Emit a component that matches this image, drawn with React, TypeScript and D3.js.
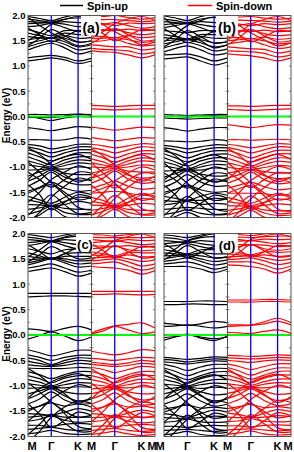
import React from "react";
import * as d3 from "d3";

// k-path (hexagonal BZ: M-Γ-K-M), sampled at M, mid, Γ, mid, K, M
const kPath = [0, 0.433, 0.866, 1.366, 1.866, 2.366];
const kTicks = [0, 0.866, 1.866, 2.366];
const kLabels = ["M", "Γ", "K", "M"];
const energyTicks = [2.0, 1.5, 1.0, 0.5, 0.0, -0.5, -1.0, -1.5, -2.0];
const legendLabels = ["Spin-up", "Spin-down"];
const panelLabels = ["(a)", "(b)", "(c)", "(d)"];

// ---------- panel (a) ----------
const upA = [
  [1.10, 1.13, 1.16, 1.12, 1.05, 1.10],
  [1.16, 1.19, 1.21, 1.17, 1.10, 1.15],
  [1.32, 1.40, 1.45, 1.36, 1.24, 1.30],
  [1.38, 1.45, 1.50, 1.43, 1.32, 1.36],
  [1.45, 1.50, 1.55, 1.48, 1.38, 1.42],
  [1.52, 1.55, 1.55, 1.55, 1.47, 1.50],
  [1.58, 1.56, 1.55, 1.60, 1.55, 1.56],
  [1.65, 1.60, 1.56, 1.65, 1.62, 1.62],
  [1.72, 1.66, 1.60, 1.70, 1.70, 1.70],
  [1.78, 1.80, 1.84, 1.76, 1.68, 1.74],
  [1.84, 1.85, 1.86, 1.83, 1.78, 1.80],
  [1.88, 1.87, 1.86, 1.88, 1.86, 1.87],
  [1.93, 1.90, 1.87, 1.93, 1.95, 1.94],
  [1.98, 1.94, 1.90, 1.97, 2.02, 2.0],
  [1.40, 1.55, 1.72, 1.60, 1.48, 1.50],
  [1.75, 1.62, 1.48, 1.58, 1.70, 1.68],
  [1.50, 1.65, 1.82, 1.92, 1.98, 1.90],
  [1.96, 1.80, 1.66, 1.52, 1.40, 1.45],
  [0.04, 0.04, 0.03, 0.04, 0.05, 0.04],
  [0.01, -0.04, -0.08, -0.03, 0.0, -0.01],
  [-0.02, -0.02, -0.02, 0.01, 0.04, 0.02],
  [-0.22, -0.25, -0.28, -0.24, -0.20, -0.22],
  [-0.46, -0.46, -0.47, -0.46, -0.42, -0.45],
  [-0.55, -0.58, -0.64, -0.60, -0.55, -0.55],
  [-0.60, -0.65, -0.72, -0.66, -0.60, -0.60],
  [-0.66, -0.72, -0.80, -0.72, -0.66, -0.66],
  [-0.72, -0.80, -0.88, -0.80, -0.72, -0.72],
  [-0.80, -0.88, -0.96, -0.86, -0.80, -0.80],
  [-0.88, -0.94, -1.00, -0.92, -0.86, -0.88],
  [-0.96, -0.99, -1.02, -0.97, -0.92, -0.94],
  [-1.06, -1.05, -1.03, -1.04, -1.00, -1.02],
  [-1.18, -1.10, -1.04, -1.12, -1.15, -1.15],
  [-1.28, -1.18, -1.06, -1.20, -1.26, -1.25],
  [-1.38, -1.26, -1.10, -1.28, -1.35, -1.35],
  [-1.48, -1.40, -1.30, -1.42, -1.48, -1.46],
  [-1.58, -1.65, -1.72, -1.60, -1.50, -1.55],
  [-1.65, -1.70, -1.76, -1.68, -1.60, -1.62],
  [-1.74, -1.75, -1.77, -1.74, -1.68, -1.72],
  [-1.84, -1.81, -1.77, -1.82, -1.84, -1.84],
  [-1.94, -1.87, -1.78, -1.90, -1.94, -1.94],
  [-2.05, -1.95, -1.82, -1.98, -2.05, -2.05],
  [-1.52, -1.42, -1.35, -1.55, -1.80, -1.85],
  [-2.10, -1.90, -1.60, -1.38, -1.22, -1.28],
  [-0.62, -0.75, -0.95, -1.15, -1.30, -1.20],
  [-1.25, -1.05, -0.90, -0.80, -0.75, -0.85],
  [-0.90, -1.10, -1.30, -1.50, -1.65, -1.60],
  [-1.70, -1.50, -1.25, -1.10, -0.98, -1.05],
  [-1.35, -1.55, -1.85, -1.70, -1.55, -1.60],
  [-1.95, -1.75, -1.55, -1.75, -1.92, -1.90],
  [-1.10, -1.25, -1.40, -1.25, -1.10, -1.12],
];
const downA = [
  [1.30, 1.28, 1.27, 1.22, 1.16, 1.22],
  [1.35, 1.33, 1.32, 1.30, 1.24, 1.28],
  [1.42, 1.40, 1.38, 1.38, 1.32, 1.35],
  [1.48, 1.50, 1.53, 1.45, 1.40, 1.42],
  [1.54, 1.55, 1.56, 1.52, 1.47, 1.50],
  [1.60, 1.58, 1.56, 1.60, 1.56, 1.58],
  [1.67, 1.70, 1.73, 1.66, 1.62, 1.65],
  [1.73, 1.72, 1.70, 1.73, 1.70, 1.72],
  [1.80, 1.82, 1.86, 1.80, 1.75, 1.78],
  [1.86, 1.84, 1.80, 1.85, 1.84, 1.85],
  [1.92, 1.92, 1.92, 1.90, 1.88, 1.90],
  [1.97, 1.98, 2.00, 1.96, 1.93, 1.96],
  [1.45, 1.58, 1.74, 1.62, 1.50, 1.52],
  [1.78, 1.64, 1.50, 1.60, 1.72, 1.70],
  [1.55, 1.68, 1.84, 1.93, 1.98, 1.90],
  [1.98, 1.82, 1.68, 1.55, 1.42, 1.48],
  [0.22, 0.21, 0.20, 0.21, 0.22, 0.22],
  [0.15, 0.14, 0.13, 0.14, 0.15, 0.15],
  [-0.21, -0.24, -0.27, -0.24, -0.21, -0.22],
  [-0.42, -0.45, -0.48, -0.45, -0.42, -0.43],
  [-0.55, -0.58, -0.62, -0.58, -0.54, -0.55],
  [-0.62, -0.66, -0.72, -0.66, -0.60, -0.62],
  [-0.68, -0.74, -0.82, -0.74, -0.68, -0.68],
  [-0.75, -0.82, -0.90, -0.82, -0.74, -0.75],
  [-0.84, -0.90, -0.97, -0.88, -0.82, -0.84],
  [-0.92, -0.96, -1.00, -0.94, -0.88, -0.90],
  [-1.00, -1.01, -1.02, -1.00, -0.96, -0.98],
  [-1.12, -1.07, -1.03, -1.08, -1.10, -1.10],
  [-1.22, -1.14, -1.05, -1.16, -1.22, -1.20],
  [-1.32, -1.22, -1.08, -1.24, -1.32, -1.30],
  [-1.42, -1.35, -1.28, -1.38, -1.44, -1.42],
  [-1.52, -1.50, -1.48, -1.52, -1.55, -1.52],
  [-1.60, -1.66, -1.74, -1.62, -1.52, -1.58],
  [-1.68, -1.72, -1.77, -1.70, -1.62, -1.65],
  [-1.76, -1.76, -1.78, -1.76, -1.72, -1.74],
  [-1.86, -1.82, -1.78, -1.84, -1.86, -1.86],
  [-1.95, -1.88, -1.80, -1.90, -1.95, -1.95],
  [-2.05, -1.96, -1.84, -1.98, -2.05, -2.05],
  [-1.50, -1.42, -1.36, -1.56, -1.82, -1.88],
  [-2.10, -1.88, -1.62, -1.40, -1.24, -1.30],
  [-0.64, -0.78, -0.96, -1.14, -1.28, -1.18],
  [-1.22, -1.04, -0.92, -0.82, -0.76, -0.86],
  [-0.92, -1.12, -1.32, -1.52, -1.66, -1.60],
  [-1.72, -1.52, -1.28, -1.12, -1.00, -1.06],
  [-1.36, -1.56, -1.84, -1.70, -1.56, -1.60],
  [-1.96, -1.76, -1.56, -1.76, -1.93, -1.91],
  [-1.12, -1.26, -1.42, -1.26, -1.12, -1.14],
];

// ---------- panel (b) ----------
const upB = [
  [1.14, 1.16, 1.18, 1.10, 1.02, 1.08],
  [1.22, 1.23, 1.24, 1.18, 1.10, 1.16],
  [1.28, 1.35, 1.40, 1.32, 1.22, 1.26],
  [1.36, 1.42, 1.47, 1.40, 1.30, 1.34],
  [1.44, 1.48, 1.52, 1.46, 1.38, 1.42],
  [1.50, 1.52, 1.52, 1.52, 1.46, 1.48],
  [1.56, 1.54, 1.52, 1.58, 1.55, 1.55],
  [1.62, 1.58, 1.54, 1.62, 1.62, 1.62],
  [1.70, 1.68, 1.66, 1.70, 1.70, 1.70],
  [1.76, 1.80, 1.84, 1.76, 1.68, 1.72],
  [1.82, 1.84, 1.86, 1.82, 1.78, 1.80],
  [1.88, 1.86, 1.84, 1.88, 1.86, 1.87],
  [1.93, 1.90, 1.86, 1.93, 1.96, 1.94],
  [1.99, 1.95, 1.90, 1.98, 2.03, 2.0],
  [1.38, 1.52, 1.70, 1.58, 1.45, 1.48],
  [1.74, 1.60, 1.46, 1.56, 1.68, 1.66],
  [1.48, 1.63, 1.80, 1.90, 1.97, 1.88],
  [1.95, 1.78, 1.64, 1.50, 1.36, 1.42],
  [0.04, 0.03, 0.02, 0.03, 0.04, 0.04],
  [-0.03, -0.04, -0.05, -0.04, -0.03, -0.03],
  [0.00, 0.00, -0.01, 0.01, 0.02, 0.01],
  [-0.22, -0.25, -0.29, -0.25, -0.22, -0.22],
  [-0.48, -0.49, -0.50, -0.49, -0.46, -0.48],
  [-0.57, -0.60, -0.64, -0.60, -0.56, -0.57],
  [-0.62, -0.66, -0.72, -0.67, -0.62, -0.62],
  [-0.68, -0.74, -0.82, -0.74, -0.68, -0.68],
  [-0.74, -0.82, -0.90, -0.82, -0.75, -0.74],
  [-0.82, -0.90, -0.98, -0.88, -0.82, -0.82],
  [-0.90, -0.96, -1.04, -0.95, -0.88, -0.90],
  [-0.98, -1.02, -1.06, -1.00, -0.95, -0.96],
  [-1.08, -1.07, -1.06, -1.06, -1.02, -1.04],
  [-1.20, -1.13, -1.06, -1.14, -1.18, -1.17],
  [-1.30, -1.20, -1.08, -1.22, -1.28, -1.27],
  [-1.40, -1.30, -1.15, -1.30, -1.38, -1.37],
  [-1.50, -1.44, -1.36, -1.45, -1.50, -1.48],
  [-1.58, -1.62, -1.66, -1.58, -1.52, -1.56],
  [-1.66, -1.68, -1.66, -1.66, -1.62, -1.64],
  [-1.75, -1.72, -1.68, -1.74, -1.72, -1.74],
  [-1.84, -1.82, -1.80, -1.82, -1.84, -1.84],
  [-1.94, -1.90, -1.85, -1.92, -1.95, -1.94],
  [-2.05, -1.98, -1.90, -2.00, -2.05, -2.05],
  [-1.55, -1.45, -1.38, -1.58, -1.82, -1.88],
  [-2.10, -1.90, -1.62, -1.40, -1.24, -1.30],
  [-0.64, -0.78, -0.98, -1.16, -1.30, -1.22],
  [-1.26, -1.08, -0.92, -0.82, -0.76, -0.86],
  [-0.92, -1.12, -1.32, -1.52, -1.66, -1.62],
  [-1.72, -1.52, -1.28, -1.12, -1.00, -1.06],
  [-1.36, -1.56, -1.86, -1.72, -1.56, -1.62],
  [-1.96, -1.76, -1.58, -1.76, -1.93, -1.92],
  [-1.12, -1.26, -1.42, -1.26, -1.12, -1.14],
];
const downB = [
  [1.24, 1.22, 1.20, 1.16, 1.10, 1.16],
  [1.30, 1.29, 1.28, 1.25, 1.18, 1.22],
  [1.38, 1.36, 1.34, 1.33, 1.26, 1.30],
  [1.44, 1.47, 1.50, 1.42, 1.35, 1.38],
  [1.50, 1.52, 1.54, 1.50, 1.44, 1.46],
  [1.57, 1.56, 1.54, 1.57, 1.53, 1.55],
  [1.64, 1.68, 1.72, 1.64, 1.60, 1.62],
  [1.71, 1.70, 1.68, 1.71, 1.68, 1.70],
  [1.78, 1.80, 1.84, 1.78, 1.74, 1.76],
  [1.85, 1.83, 1.80, 1.84, 1.82, 1.84],
  [1.91, 1.91, 1.90, 1.89, 1.87, 1.89],
  [1.97, 1.97, 1.98, 1.95, 1.93, 1.95],
  [1.42, 1.56, 1.72, 1.60, 1.48, 1.50],
  [1.76, 1.62, 1.48, 1.58, 1.70, 1.68],
  [1.52, 1.66, 1.82, 1.92, 1.98, 1.90],
  [1.97, 1.80, 1.66, 1.52, 1.40, 1.46],
  [0.21, 0.21, 0.20, 0.21, 0.22, 0.22],
  [0.14, 0.13, 0.12, 0.13, 0.14, 0.15],
  [-0.16, -0.19, -0.22, -0.19, -0.16, -0.17],
  [-0.46, -0.46, -0.47, -0.46, -0.45, -0.46],
  [-0.55, -0.58, -0.62, -0.58, -0.54, -0.55],
  [-0.61, -0.66, -0.72, -0.66, -0.60, -0.61],
  [-0.67, -0.74, -0.82, -0.74, -0.67, -0.67],
  [-0.74, -0.82, -0.90, -0.82, -0.74, -0.74],
  [-0.83, -0.90, -0.98, -0.89, -0.82, -0.83],
  [-0.92, -0.97, -1.02, -0.95, -0.89, -0.91],
  [-1.01, -1.03, -1.05, -1.01, -0.97, -0.99],
  [-1.12, -1.08, -1.05, -1.09, -1.12, -1.11],
  [-1.22, -1.15, -1.06, -1.17, -1.23, -1.21],
  [-1.32, -1.23, -1.10, -1.25, -1.33, -1.31],
  [-1.42, -1.36, -1.30, -1.39, -1.45, -1.43],
  [-1.52, -1.52, -1.52, -1.53, -1.56, -1.53],
  [-1.60, -1.66, -1.72, -1.62, -1.52, -1.58],
  [-1.68, -1.72, -1.76, -1.70, -1.63, -1.66],
  [-1.77, -1.77, -1.78, -1.76, -1.73, -1.75],
  [-1.86, -1.83, -1.79, -1.85, -1.87, -1.86],
  [-1.95, -1.89, -1.81, -1.91, -1.96, -1.95],
  [-2.05, -1.97, -1.86, -1.99, -2.05, -2.05],
  [-1.52, -1.43, -1.37, -1.57, -1.83, -1.88],
  [-2.10, -1.89, -1.63, -1.41, -1.25, -1.31],
  [-0.63, -0.77, -0.96, -1.15, -1.29, -1.20],
  [-1.24, -1.06, -0.91, -0.81, -0.75, -0.85],
  [-0.91, -1.11, -1.31, -1.51, -1.65, -1.61],
  [-1.71, -1.51, -1.27, -1.11, -0.99, -1.05],
  [-1.35, -1.55, -1.85, -1.71, -1.55, -1.61],
  [-1.95, -1.75, -1.57, -1.75, -1.92, -1.91],
  [-1.11, -1.25, -1.41, -1.25, -1.11, -1.13],
];

// ---------- panel (c) ----------
const upC = [
  [1.25, 1.29, 1.32, 1.25, 1.16, 1.22],
  [1.32, 1.36, 1.40, 1.32, 1.24, 1.28],
  [1.38, 1.44, 1.50, 1.42, 1.34, 1.36],
  [1.42, 1.47, 1.52, 1.46, 1.40, 1.42],
  [1.48, 1.50, 1.52, 1.50, 1.46, 1.47],
  [1.55, 1.52, 1.50, 1.55, 1.55, 1.55],
  [1.62, 1.56, 1.50, 1.60, 1.62, 1.62],
  [1.70, 1.65, 1.60, 1.68, 1.70, 1.70],
  [1.76, 1.80, 1.84, 1.76, 1.70, 1.74],
  [1.82, 1.84, 1.86, 1.82, 1.78, 1.80],
  [1.88, 1.86, 1.84, 1.88, 1.86, 1.87],
  [1.93, 1.90, 1.86, 1.92, 1.95, 1.94],
  [1.98, 1.95, 1.92, 1.97, 2.02, 2.0],
  [1.44, 1.58, 1.74, 1.62, 1.50, 1.52],
  [1.78, 1.64, 1.50, 1.60, 1.72, 1.70],
  [1.54, 1.68, 1.84, 1.93, 1.98, 1.90],
  [0.82, 0.82, 0.82, 0.82, 0.82, 0.82],
  [0.75, 0.76, 0.77, 0.77, 0.76, 0.75],
  [0.12, 0.10, 0.07, 0.13, 0.17, 0.10],
  [-0.08, -0.01, 0.06, -0.02, -0.11, -0.04],
  [-0.29, -0.35, -0.41, -0.36, -0.30, -0.30],
  [-0.39, -0.44, -0.50, -0.44, -0.40, -0.40],
  [-0.45, -0.50, -0.58, -0.50, -0.45, -0.46],
  [-0.52, -0.56, -0.60, -0.55, -0.50, -0.52],
  [-0.59, -0.61, -0.62, -0.60, -0.56, -0.58],
  [-0.65, -0.66, -0.66, -0.66, -0.64, -0.65],
  [-0.72, -0.78, -0.86, -0.78, -0.72, -0.72],
  [-0.80, -0.86, -0.94, -0.85, -0.80, -0.80],
  [-0.88, -0.93, -1.00, -0.92, -0.86, -0.88],
  [-0.96, -0.99, -1.02, -0.98, -0.94, -0.95],
  [-1.05, -1.04, -1.03, -1.04, -1.02, -1.03],
  [-1.16, -1.10, -1.04, -1.12, -1.16, -1.15],
  [-1.26, -1.16, -1.06, -1.20, -1.30, -1.26],
  [-1.36, -1.26, -1.12, -1.28, -1.36, -1.35],
  [-1.46, -1.40, -1.34, -1.40, -1.36, -1.42],
  [-1.55, -1.56, -1.58, -1.52, -1.45, -1.50],
  [-1.62, -1.60, -1.58, -1.62, -1.62, -1.62],
  [-1.70, -1.66, -1.60, -1.68, -1.72, -1.70],
  [-1.78, -1.78, -1.80, -1.76, -1.74, -1.76],
  [-1.86, -1.84, -1.82, -1.86, -1.88, -1.86],
  [-1.95, -1.92, -1.88, -1.94, -1.96, -1.95],
  [-1.50, -1.40, -1.32, -1.55, -1.80, -1.85],
  [-2.10, -1.90, -1.62, -1.42, -1.30, -1.35],
  [-0.66, -0.80, -0.98, -1.16, -1.34, -1.22],
  [-1.24, -1.06, -0.92, -0.82, -0.76, -0.86],
  [-0.94, -1.12, -1.32, -1.50, -1.62, -1.58],
  [-1.70, -1.50, -1.26, -1.10, -0.98, -1.04],
  [-1.36, -1.56, -1.82, -1.68, -1.52, -1.58],
  [-1.96, -1.76, -1.56, -1.74, -1.90, -1.90],
];
const downC = [
  [1.35, 1.33, 1.32, 1.28, 1.20, 1.27],
  [1.40, 1.42, 1.44, 1.36, 1.28, 1.33],
  [1.46, 1.48, 1.50, 1.44, 1.36, 1.40],
  [1.52, 1.53, 1.54, 1.50, 1.45, 1.48],
  [1.58, 1.56, 1.54, 1.58, 1.54, 1.55],
  [1.64, 1.60, 1.56, 1.63, 1.62, 1.62],
  [1.70, 1.72, 1.75, 1.68, 1.66, 1.68],
  [1.76, 1.75, 1.74, 1.76, 1.73, 1.75],
  [1.82, 1.84, 1.86, 1.82, 1.78, 1.80],
  [1.88, 1.86, 1.84, 1.88, 1.86, 1.87],
  [1.93, 1.92, 1.92, 1.92, 1.92, 1.93],
  [1.98, 1.97, 1.95, 1.98, 2.00, 1.99],
  [1.48, 1.60, 1.76, 1.64, 1.52, 1.54],
  [1.80, 1.66, 1.52, 1.62, 1.74, 1.72],
  [1.56, 1.70, 1.86, 1.94, 1.99, 1.92],
  [0.86, 0.86, 0.86, 0.86, 0.86, 0.86],
  [0.80, 0.80, 0.81, 0.80, 0.79, 0.80],
  [0.04, 0.12, 0.18, 0.21, 0.24, 0.14],
  [0.02, 0.08, 0.17, 0.10, 0.03, 0.06],
  [-0.32, -0.36, -0.39, -0.35, -0.29, -0.31],
  [-0.46, -0.48, -0.50, -0.47, -0.44, -0.45],
  [-0.54, -0.56, -0.58, -0.55, -0.50, -0.53],
  [-0.58, -0.60, -0.62, -0.60, -0.56, -0.58],
  [-0.64, -0.68, -0.74, -0.68, -0.62, -0.64],
  [-0.72, -0.78, -0.86, -0.78, -0.72, -0.72],
  [-0.80, -0.86, -0.94, -0.86, -0.80, -0.80],
  [-0.88, -0.93, -1.00, -0.92, -0.87, -0.88],
  [-0.97, -1.00, -1.02, -0.98, -0.94, -0.96],
  [-1.06, -1.04, -1.03, -1.04, -1.02, -1.04],
  [-1.16, -1.10, -1.04, -1.12, -1.16, -1.15],
  [-1.26, -1.17, -1.06, -1.20, -1.28, -1.26],
  [-1.36, -1.27, -1.14, -1.30, -1.38, -1.36],
  [-1.46, -1.42, -1.36, -1.42, -1.40, -1.44],
  [-1.55, -1.57, -1.60, -1.54, -1.48, -1.52],
  [-1.63, -1.62, -1.60, -1.62, -1.62, -1.62],
  [-1.71, -1.68, -1.62, -1.70, -1.73, -1.71],
  [-1.80, -1.79, -1.80, -1.78, -1.76, -1.78],
  [-1.88, -1.86, -1.84, -1.88, -1.90, -1.88],
  [-1.96, -1.93, -1.90, -1.95, -1.98, -1.96],
  [-1.52, -1.42, -1.33, -1.56, -1.82, -1.86],
  [-2.10, -1.90, -1.64, -1.44, -1.32, -1.36],
  [-0.67, -0.81, -0.99, -1.17, -1.33, -1.21],
  [-1.25, -1.07, -0.93, -0.83, -0.77, -0.87],
  [-0.95, -1.13, -1.33, -1.51, -1.63, -1.59],
  [-1.71, -1.51, -1.27, -1.11, -0.99, -1.05],
  [-1.37, -1.57, -1.83, -1.69, -1.53, -1.59],
  [-1.97, -1.77, -1.57, -1.75, -1.91, -1.91],
];

// ---------- panel (d) ----------
const upD = [
  [1.35, 1.35, 1.35, 1.30, 1.23, 1.30],
  [1.40, 1.42, 1.44, 1.38, 1.30, 1.35],
  [1.45, 1.48, 1.52, 1.45, 1.38, 1.42],
  [1.50, 1.54, 1.56, 1.50, 1.45, 1.48],
  [1.56, 1.57, 1.58, 1.56, 1.52, 1.54],
  [1.62, 1.60, 1.58, 1.62, 1.60, 1.60],
  [1.68, 1.64, 1.60, 1.68, 1.68, 1.68],
  [1.74, 1.76, 1.80, 1.74, 1.70, 1.72],
  [1.80, 1.82, 1.84, 1.80, 1.77, 1.79],
  [1.86, 1.84, 1.82, 1.86, 1.84, 1.85],
  [1.92, 1.90, 1.86, 1.92, 1.94, 1.93],
  [1.97, 1.95, 1.92, 1.97, 2.01, 1.99],
  [1.48, 1.62, 1.76, 1.64, 1.52, 1.54],
  [1.80, 1.66, 1.52, 1.62, 1.74, 1.72],
  [1.56, 1.70, 1.86, 1.94, 1.99, 1.92],
  [0.66, 0.66, 0.66, 0.67, 0.67, 0.66],
  [0.60, 0.60, 0.61, 0.61, 0.60, 0.60],
  [0.23, 0.21, 0.19, 0.22, 0.27, 0.24],
  [0.17, 0.18, 0.20, 0.17, 0.14, 0.17],
  [-0.10, -0.04, 0.02, -0.06, -0.11, -0.02],
  [-0.05, -0.03, 0.00, -0.04, -0.07, -0.04],
  [-0.44, -0.46, -0.48, -0.46, -0.43, -0.44],
  [-0.48, -0.50, -0.53, -0.50, -0.47, -0.48],
  [-0.53, -0.55, -0.57, -0.54, -0.51, -0.52],
  [-0.58, -0.63, -0.70, -0.63, -0.58, -0.58],
  [-0.65, -0.72, -0.80, -0.72, -0.66, -0.66],
  [-0.72, -0.80, -0.88, -0.80, -0.73, -0.72],
  [-0.80, -0.87, -0.95, -0.86, -0.80, -0.80],
  [-0.88, -0.93, -1.00, -0.93, -0.88, -0.88],
  [-0.97, -0.99, -1.02, -0.98, -0.95, -0.96],
  [-1.06, -1.04, -1.03, -1.05, -1.03, -1.05],
  [-1.16, -1.10, -1.04, -1.12, -1.18, -1.16],
  [-1.26, -1.17, -1.06, -1.20, -1.30, -1.26],
  [-1.36, -1.28, -1.16, -1.30, -1.40, -1.36],
  [-1.46, -1.42, -1.38, -1.44, -1.42, -1.45],
  [-1.55, -1.58, -1.62, -1.55, -1.48, -1.52],
  [-1.63, -1.64, -1.64, -1.63, -1.60, -1.62],
  [-1.72, -1.70, -1.66, -1.71, -1.72, -1.71],
  [-1.80, -1.80, -1.82, -1.79, -1.78, -1.79],
  [-1.88, -1.87, -1.86, -1.88, -1.90, -1.88],
  [-1.97, -1.94, -1.90, -1.96, -1.98, -1.97],
  [-1.52, -1.44, -1.36, -1.58, -1.84, -1.88],
  [-2.10, -1.90, -1.66, -1.46, -1.30, -1.34],
  [-0.68, -0.82, -1.00, -1.18, -1.34, -1.22],
  [-1.26, -1.08, -0.94, -0.84, -0.78, -0.88],
  [-0.96, -1.14, -1.34, -1.52, -1.64, -1.60],
  [-1.72, -1.52, -1.28, -1.12, -1.00, -1.06],
  [-1.38, -1.58, -1.84, -1.70, -1.54, -1.60],
  [-1.98, -1.78, -1.58, -1.76, -1.92, -1.92],
];
const downD = [
  [1.38, 1.37, 1.35, 1.30, 1.22, 1.30],
  [1.44, 1.44, 1.44, 1.38, 1.30, 1.36],
  [1.49, 1.50, 1.52, 1.46, 1.39, 1.43],
  [1.54, 1.55, 1.56, 1.52, 1.47, 1.50],
  [1.60, 1.58, 1.56, 1.58, 1.55, 1.57],
  [1.66, 1.62, 1.58, 1.64, 1.63, 1.64],
  [1.72, 1.74, 1.78, 1.70, 1.67, 1.70],
  [1.78, 1.78, 1.78, 1.77, 1.74, 1.76],
  [1.84, 1.85, 1.86, 1.83, 1.80, 1.82],
  [1.89, 1.88, 1.86, 1.89, 1.88, 1.89],
  [1.94, 1.93, 1.92, 1.94, 1.95, 1.95],
  [1.99, 1.98, 1.96, 1.99, 2.02, 2.00],
  [1.50, 1.63, 1.78, 1.66, 1.54, 1.56],
  [1.82, 1.68, 1.54, 1.64, 1.76, 1.74],
  [1.58, 1.72, 1.88, 1.95, 1.99, 1.93],
  [0.69, 0.69, 0.69, 0.70, 0.70, 0.69],
  [0.65, 0.65, 0.65, 0.66, 0.66, 0.65],
  [0.20, 0.20, 0.20, 0.26, 0.33, 0.24],
  [0.17, 0.18, 0.19, 0.22, 0.27, 0.20],
  [0.05, 0.04, 0.03, 0.07, 0.10, 0.03],
  [-0.40, -0.41, -0.42, -0.41, -0.39, -0.40],
  [-0.45, -0.46, -0.47, -0.46, -0.44, -0.45],
  [-0.50, -0.52, -0.54, -0.51, -0.49, -0.50],
  [-0.57, -0.62, -0.68, -0.62, -0.57, -0.57],
  [-0.64, -0.71, -0.79, -0.71, -0.65, -0.65],
  [-0.71, -0.79, -0.87, -0.79, -0.72, -0.71],
  [-0.79, -0.86, -0.94, -0.85, -0.79, -0.79],
  [-0.87, -0.92, -0.99, -0.92, -0.87, -0.87],
  [-0.96, -0.99, -1.02, -0.97, -0.94, -0.95],
  [-1.05, -1.04, -1.03, -1.04, -1.02, -1.04],
  [-1.15, -1.10, -1.04, -1.11, -1.17, -1.15],
  [-1.25, -1.17, -1.06, -1.19, -1.29, -1.25],
  [-1.35, -1.27, -1.15, -1.29, -1.39, -1.35],
  [-1.45, -1.41, -1.37, -1.43, -1.41, -1.44],
  [-1.54, -1.57, -1.61, -1.54, -1.47, -1.51],
  [-1.62, -1.63, -1.63, -1.62, -1.59, -1.61],
  [-1.71, -1.69, -1.65, -1.70, -1.71, -1.70],
  [-1.79, -1.79, -1.81, -1.78, -1.77, -1.78],
  [-1.87, -1.86, -1.85, -1.87, -1.89, -1.87],
  [-1.96, -1.93, -1.89, -1.95, -1.97, -1.96],
  [-1.51, -1.43, -1.35, -1.57, -1.83, -1.87],
  [-2.10, -1.89, -1.65, -1.45, -1.29, -1.33],
  [-0.67, -0.81, -0.99, -1.17, -1.33, -1.21],
  [-1.25, -1.07, -0.93, -0.83, -0.77, -0.87],
  [-0.95, -1.13, -1.33, -1.51, -1.63, -1.59],
  [-1.71, -1.51, -1.27, -1.11, -0.99, -1.05],
  [-1.37, -1.57, -1.83, -1.69, -1.53, -1.59],
  [-1.97, -1.77, -1.57, -1.75, -1.91, -1.91],
];

const FONT = "'Liberation Sans', Arial, Helvetica, sans-serif";
const HALF_W = 63.5;

const panels = [
  { key: "a", label: panelLabels[0], x0: 28, row: 0, up: upA, down: downA, box: [81, 101], ly: 33, lx: 91, fs: 14 },
  { key: "b", label: panelLabels[1], x0: 164, row: 0, up: upB, down: downB, box: [216, 238], ly: 33, lx: 227, fs: 14 },
  { key: "c", label: panelLabels[2], x0: 28, row: 1, up: upC, down: downC, box: [76, 93], ly: 249, lx: 85, fs: 13 },
  { key: "d", label: panelLabels[3], x0: 164, row: 1, up: upD, down: downD, box: [215, 238], ly: 250, lx: 227, fs: 13 },
];
const rows = [
  { y0: 15.5, y1: 217.5 },
  { y0: 233.5, y1: 436.5 },
];

function Half({ id, x0, y0, y1, bands, color }) {
  const x1 = x0 + HALF_W;
  const xs = d3.scaleLinear().domain([kPath[0], kPath[kPath.length - 1]]).range([x0, x1]);
  const ys = d3.scaleLinear().domain([-2, 2]).range([y1, y0]);
  const line = d3
    .line<number>()
    .x((_, i) => xs(kPath[i]))
    .y((d) => ys(d))
    .curve(d3.curveCatmullRom.alpha(0.5));
  const minor = d3.range(-2, 2.01, 0.25);
  return (
    <g>
      <defs>
        <clipPath id={id}>
          <rect x={x0} y={y0} width={HALF_W} height={y1 - y0} />
        </clipPath>
      </defs>
      <g clipPath={`url(#${id})`}>
        {bands.map((b, i) => (
          <path key={i} d={line(b) || ""} fill="none" stroke={color} strokeWidth={1.2} />
        ))}
        <line x1={x0} x2={x1} y1={ys(0)} y2={ys(0)} stroke="#00ff00" strokeWidth={2} />
        {kTicks.slice(1, 3).map((k, i) => (
          <line key={i} x1={xs(k)} x2={xs(k)} y1={y0} y2={y1} stroke="#0000ff" strokeWidth={1.3} />
        ))}
      </g>
      {minor.map((e, i) => (
        <g key={i}>
          <line x1={x0} x2={x0 + 2} y1={ys(e)} y2={ys(e)} stroke="#666" strokeWidth={0.8} />
          <line x1={x1 - 2} x2={x1} y1={ys(e)} y2={ys(e)} stroke="#666" strokeWidth={0.8} />
        </g>
      ))}
      <rect x={x0} y={y0} width={HALF_W} height={y1 - y0} fill="none" stroke="#555" strokeWidth={1} />
    </g>
  );
}

export default function App() {
  const W = 294;
  const H = 452;
  return (
    <svg
      width={W}
      height={H}
      viewBox={`0 0 ${W} ${H}`}
      style={{ position: "absolute", left: 0, top: 0, display: "block", background: "#fff" }}
      fontFamily={FONT}
    >
      <rect x={0} y={0} width={W} height={H} fill="#fff" />
      {/* legend */}
      <line x1={60} x2={83} y1={5.5} y2={5.5} stroke="#000" strokeWidth={1.5} />
      <text x={87} y={10} fontSize={11} fontWeight="bold" fill="#000">{legendLabels[0]}</text>
      <line x1={188} x2={212} y1={5.5} y2={5.5} stroke="#ff0000" strokeWidth={1.5} />
      <text x={216} y={10} fontSize={11} fontWeight="bold" fill="#000">{legendLabels[1]}</text>

      {panels.map((p) => {
        const r = rows[p.row];
        const ys = d3.scaleLinear().domain([-2, 2]).range([r.y1, r.y0]);
        const xsFull = d3.scaleLinear().domain([0, kPath[kPath.length - 1]]).range([p.x0, p.x0 + HALF_W]);
        const xsFull2 = d3.scaleLinear().domain([0, kPath[kPath.length - 1]]).range([p.x0 + HALF_W, p.x0 + 2 * HALF_W]);
        return (
          <g key={p.key}>
            <Half id={`clip-${p.key}-up`} x0={p.x0} y0={r.y0} y1={r.y1} bands={p.up} color="#000000" />
            <Half id={`clip-${p.key}-dn`} x0={p.x0 + HALF_W} y0={r.y0} y1={r.y1} bands={p.down} color="#ff0000" />
            <rect x={p.box[0]} y={r.y0 + 0.5} width={p.box[1] - p.box[0]} height={p.ly - r.y0 + 2} fill="#fff" />
            <text x={p.lx} y={p.ly} fontSize={p.fs} fontWeight="bold" textAnchor="middle" fill="#000">{p.label}</text>
            {p.x0 < 100 &&
              energyTicks.map((e, i) => (
                <text key={i} x={p.x0 - 2.5} y={ys(e) + 3.3} fontSize={9.5} fontWeight="bold" textAnchor="end" fill="#000">
                  {e.toFixed(1)}
                </text>
              ))}
            {p.x0 < 100 && (
              <text
                transform={`translate(9.5, ${ys(0) - 1}) rotate(-90)`}
                fontSize={10}
                fontWeight="bold"
                textAnchor="middle"
                fill="#000"
              >
                Energy (eV)
              </text>
            )}
            {p.row === 1 &&
              [xsFull, xsFull2].map((sc, h) =>
                kTicks.map((k, i) => {
                  if (h === 1 && i === 0) return null;
                  let x = sc(k);
                  if (h === 0 && i === 0) x += p.x0 < 100 ? 4 : -4;
                  if (h === 1 && i === 3) x -= 3;
                  return (
                    <text key={`${h}-${i}`} x={x} y={450} fontSize={11} fontWeight="bold" textAnchor="middle" fill="#000">
                      {kLabels[i]}
                    </text>
                  );
                })
              )}
          </g>
        );
      })}
    </svg>
  );
}
